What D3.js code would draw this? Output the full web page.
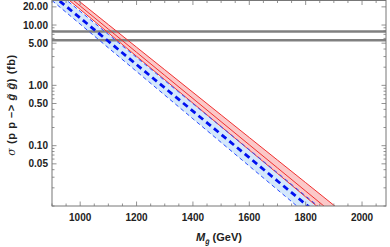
<!DOCTYPE html>
<html><head><meta charset="utf-8">
<script src="https://cdn.jsdelivr.net/npm/d3@7"></script>
<style>
html,body{margin:0;padding:0;background:#fff;}
svg{display:block;}
text{font-family:"Liberation Sans",Arial,sans-serif;}
</style></head>
<body><svg id="c" width="390" height="247"></svg>
<script>
// Gluino mass (GeV)
const masses = [900,1000,1100,1200,1300,1400,1500,1600,1700,1800,1900,2000];
// Blue (dashed) band: central, lower, upper cross sections (fb)
const blueCentral = [31.8,13.08,5.38,2.21,0.910,0.374,0.154,0.0633,0.0260,0.0107,0.00441,0.00182];
const blueLow     = [25.5,10.34,4.19,1.70,0.689,0.279,0.1132,0.0459,0.0186,0.00754,0.00306,0.00124];
const blueHigh    = [40.7,16.88,6.99,2.90,1.200,0.497,0.206,0.0854,0.0354,0.01465,0.00607,0.00251];
// Red (solid) band: central, lower, upper cross sections (fb)
const redCentral  = [50.0,20.67,8.55,3.535,1.462,0.605,0.250,0.1034,0.0428,0.01768,0.00731,0.00302];
const redLow      = [44.4,18.16,7.42,3.03,1.240,0.507,0.207,0.0846,0.0346,0.01414,0.00578,0.00236];
const redHigh     = [56.9,24.06,10.16,4.29,1.813,0.766,0.3234,0.1366,0.0577,0.0244,0.01029,0.00435];
// Horizontal reference limits (fb)
const limits = [7.8, 5.6];
// Ticks
const xTicks = [1000,1200,1400,1600,1800,2000];
const yTicks = [0.05,0.1,0.5,1,5,10,20];
const yTickLabels = ["0.05","0.10","0.50","1.00","5.00","10.00","20.00"];

const svg = d3.select("#c");
const L=52, R=386, T=0.5, B=206;
const x = d3.scaleLinear().domain([900,2085]).range([L,R]);
const y = d3.scaleLog().domain([0.01,25.5]).range([B,T]);

svg.append("defs").append("clipPath").attr("id","clip")
  .append("rect").attr("x",L).attr("y",T).attr("width",R-L).attr("height",B-T);
const g = svg.append("g").attr("clip-path","url(#clip)");

function band(lo,hi){
  return d3.area().x((d,i)=>x(masses[i])).y0((d,i)=>y(lo[i])).y1((d,i)=>y(hi[i]))(masses);
}
function line(v){ return d3.line().x((d,i)=>x(masses[i])).y((d,i)=>y(v[i]))(masses); }

g.append("path").attr("d",band(blueLow,blueHigh)).attr("fill","#d4e8fb");
g.append("path").attr("d",band(redLow,redHigh)).attr("fill","#fbc8c8");

limits.forEach(v=>{
  g.append("line").attr("x1",L).attr("x2",R).attr("y1",y(v)).attr("y2",y(v))
   .attr("stroke","#808080").attr("stroke-width",2.6);
});

[redLow,redCentral,redHigh].forEach(v=>{
  g.append("path").attr("d",line(v)).attr("fill","none").attr("stroke","#f03030").attr("stroke-width",1);
});
[blueLow,blueHigh].forEach(v=>{
  g.append("path").attr("d",line(v)).attr("fill","none").attr("stroke","#2a4cff")
   .attr("stroke-width",1).attr("stroke-dasharray","4,3");
});
g.append("path").attr("d",line(blueCentral)).attr("fill","none").attr("stroke","#0010f0")
 .attr("stroke-width",2.8).attr("stroke-dasharray","6,4");

// Frame
const fc="#777";
svg.append("rect").attr("x",L).attr("y",T).attr("width",R-L).attr("height",B-T)
  .attr("fill","none").attr("stroke",fc).attr("stroke-width",1);

// x ticks (inward, bottom and top)
const xMinor = d3.range(900,2100,50).filter(v=>xTicks.indexOf(v)<0);
const tg = svg.append("g").attr("stroke",fc).attr("stroke-width",0.8);
xTicks.forEach(v=>{
  tg.append("line").attr("x1",x(v)).attr("x2",x(v)).attr("y1",B).attr("y2",B-4.5);
  tg.append("line").attr("x1",x(v)).attr("x2",x(v)).attr("y1",T).attr("y2",T+4.5);
});
xMinor.forEach(v=>{
  tg.append("line").attr("x1",x(v)).attr("x2",x(v)).attr("y1",B).attr("y2",B-2.5);
  tg.append("line").attr("x1",x(v)).attr("x2",x(v)).attr("y1",T).attr("y2",T+2.5);
});
// y ticks
const yMinor = [];
[0.01,0.1,1,10].forEach(dec=>{ for(let k=1;k<10;k++){ const v=dec*k; if(v<=25.5 && yTicks.every(t=>Math.abs(t-v)>1e-9)) yMinor.push(v);} });
yTicks.forEach(v=>{
  tg.append("line").attr("x1",L).attr("x2",L+4.5).attr("y1",y(v)).attr("y2",y(v));
  tg.append("line").attr("x1",R).attr("x2",R-4.5).attr("y1",y(v)).attr("y2",y(v));
});
yMinor.forEach(v=>{
  tg.append("line").attr("x1",L).attr("x2",L+2.5).attr("y1",y(v)).attr("y2",y(v));
  tg.append("line").attr("x1",R).attr("x2",R-2.5).attr("y1",y(v)).attr("y2",y(v));
});

// labels
const lab = svg.append("g").attr("font-size",10).attr("font-weight","bold").attr("fill","#222");
xTicks.forEach(v=>{
  lab.append("text").attr("x",x(v)).attr("y",221).attr("text-anchor","middle").text(v);
});
yTicks.forEach((v,i)=>{
  lab.append("text").attr("x",48).attr("y",y(v)+3.5).attr("text-anchor","end").text(yTickLabels[i]);
});

// x axis title
const xt = svg.append("text").attr("x",219).attr("y",241).attr("text-anchor","middle")
  .attr("font-size",11).attr("font-weight","bold").attr("fill","#222");
xt.append("tspan").attr("font-style","italic").text("M");
xt.append("tspan").attr("font-size",7).attr("font-style","italic").attr("dy",3).text("g̃");
xt.append("tspan").attr("dy",-3).text(" (GeV)");

// y axis title
const yt = svg.append("text").attr("transform","translate(15,105) rotate(-90)")
  .attr("text-anchor","middle").attr("font-size",11).attr("font-weight","bold").attr("fill","#222")
  .attr("letter-spacing",0.6);
yt.append("tspan").attr("font-family","'DejaVu Serif',serif").attr("font-style","italic").attr("font-weight","normal").text("σ");
yt.append("tspan").text(" (p p –> ");
yt.append("tspan").attr("font-style","italic").text("g̃");
yt.append("tspan").text(" ");
yt.append("tspan").attr("font-style","italic").text("g̃");
yt.append("tspan").text(") (fb)");
</script></body></html>
